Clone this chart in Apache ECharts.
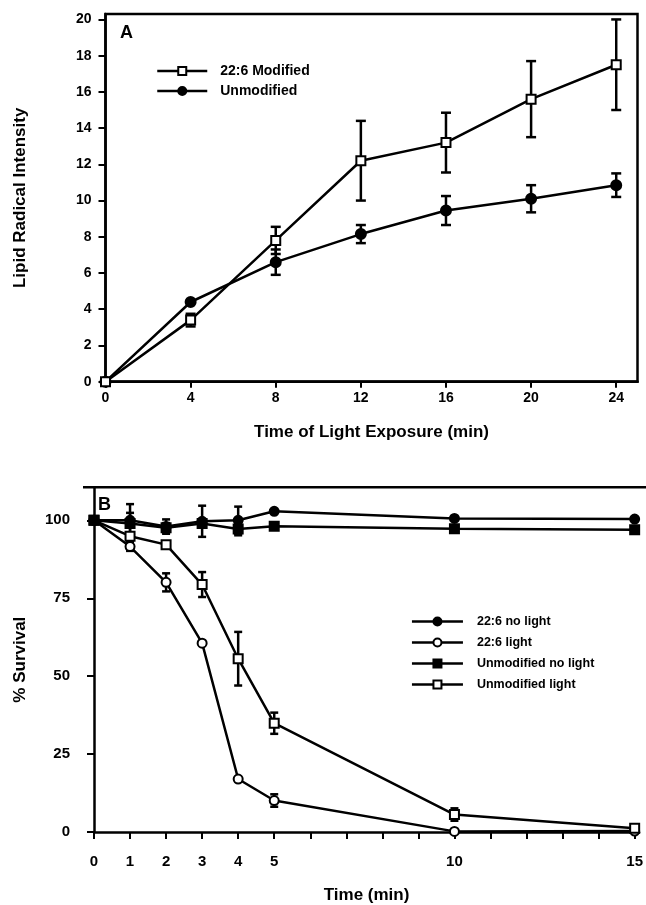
<!DOCTYPE html>
<html>
<head>
<meta charset="utf-8">
<script src="https://cdn.jsdelivr.net/npm/echarts@6/dist/echarts.min.js"></script>
<style>
  html, body { margin: 0; padding: 0; background: #fff; }
  #chart { width: 646px; height: 905px; }
</style>
</head>
<body>
<div id="chart"></div>
<script>
// Panel A: lipid radical intensity vs time of light exposure
const timeA = [0, 4, 8, 12, 16, 20, 24];
const modifiedA = [0, 3.4, 7.8, 12.2, 13.2, 15.6, 17.5];
const modifiedAErr = [0, 0.35, 0.75, 2.2, 1.65, 2.1, 2.5];
const unmodifiedA = [0, 4.4, 6.6, 8.15, 9.45, 10.1, 10.85];
const unmodifiedAErr = [0, 0, 0.7, 0.5, 0.8, 0.75, 0.65];
const ticksAX = [0, 4, 8, 12, 16, 20, 24];
const ticksAY = [0, 2, 4, 6, 8, 10, 12, 14, 16, 18, 20];

// Panel B: % survival vs time
const timeB = [0, 1, 2, 3, 4, 5, 10, 15];
const noLight226 = [100, 100, 98, 99.7, 100, 102.9, 100.6, 100.4];
const noLight226Err = [0, 5.2, 2.3, 5, 4.4, 0, 0, 0];
const light226 = [100, 91.6, 80.1, 60.6, 17, 10.1, 0.2, 0.3];
const light226Err = [0, 1.4, 2.9, 0, 0, 2, 0, 0];
const noLightUnmod = [100, 99, 97.6, 99, 97.2, 98.1, 97.3, 97];
const noLightUnmodErr = [0, 3.4, 1.5, 0, 2, 0, 0, 0];
const lightUnmod = [100, 94.9, 92.2, 79.4, 55.6, 34.9, 5.6, 1.2];
const lightUnmodErr = [0, 0, 0, 4, 8.6, 3.4, 2, 0];
const ticksBX = [0, 1, 2, 3, 4, 5, 6, 7, 8, 9, 10, 11, 12, 13, 14, 15];
const labelsBX = [0, 1, 2, 3, 4, 5, 10, 15];
const ticksBY = [0, 25, 50, 75, 100];

const FONT = 'Liberation Sans, Arial, sans-serif';
const LW = 2.5;

// layout of the two panels
const gridA = { left: 105.5, top: 14, width: 532, height: 367.7 };
const gridB = { left: 94, top: 487.3, width: 552, height: 348.7 };
const yOffsetB = 11;

const pair = (xs, ys) => xs.map((x, i) => [x, ys[i]]);
const bars = (xs, ys, es) =>
  xs.map((x, i) => [x, ys[i] - es[i], ys[i] + es[i]]).filter((d, i) => es[i] > 0);

function errorBar(capHalf) {
  return function (params, api) {
    const x = api.value(0);
    const lo = api.coord([x, api.value(1)]);
    const hi = api.coord([x, api.value(2)]);
    const style = { stroke: '#000', lineWidth: LW };
    return {
      type: 'group',
      children: [
        { type: 'line', shape: { x1: lo[0], y1: lo[1], x2: hi[0], y2: hi[1] }, style },
        { type: 'line', shape: { x1: lo[0] - capHalf, y1: lo[1], x2: lo[0] + capHalf, y2: lo[1] }, style },
        { type: 'line', shape: { x1: hi[0] - capHalf, y1: hi[1], x2: hi[0] + capHalf, y2: hi[1] }, style }
      ]
    };
  };
}

function errSeries(idx, data, cap) {
  return {
    type: 'custom',
    xAxisIndex: idx,
    yAxisIndex: idx,
    renderItem: errorBar(cap),
    encode: { x: 0, y: [1, 2] },
    data: data,
    z: 1,
    silent: true
  };
}

function lineSeries(idx, name, data, symbol, filled, size) {
  return {
    name: name,
    type: 'line',
    xAxisIndex: idx,
    yAxisIndex: idx,
    data: data,
    symbol: symbol,
    symbolSize: size,
    showAllSymbol: true,
    z: 3,
    lineStyle: { color: '#000', width: LW },
    itemStyle: { color: filled ? '#000' : '#fff', borderColor: '#000', borderWidth: 2 }
  };
}

const axisLine = { show: true, lineStyle: { color: '#000', width: LW } };
const tickStyle = { color: '#000', width: 2 };
const labelStyle = (size) => ({ color: '#000', fontFamily: FONT, fontWeight: 'bold', fontSize: size });
const nameStyle = { color: '#000', fontFamily: FONT, fontWeight: 'bold', fontSize: 17 };

const chart = echarts.init(document.getElementById('chart'));

chart.setOption({
  animation: false,
  backgroundColor: '#fff',
  title: [
    { text: 'A', left: 115, top: 19, textStyle: { color: '#000', fontFamily: FONT, fontWeight: 'bold', fontSize: 18 } },
    { text: 'B', left: 93, top: 491, textStyle: { color: '#000', fontFamily: FONT, fontWeight: 'bold', fontSize: 18 } }
  ],
  legend: [
    {
      data: ['22:6 Modified', 'Unmodified'],
      orient: 'vertical',
      left: 156,
      top: 64,
      padding: 0,
      itemWidth: 50,
      itemHeight: 10,
      itemGap: 6,
      lineStyle: { width: LW, color: '#000' },
      textStyle: { color: '#000', fontFamily: FONT, fontWeight: 'bold', fontSize: 14, padding: [0, 0, 0, 8] }
    },
    {
      data: ['22:6 no light', '22:6 light', 'Unmodified no light', 'Unmodified light'],
      orient: 'vertical',
      left: 410.7,
      top: 615,
      padding: 0,
      itemWidth: 51,
      itemHeight: 10,
      itemGap: 8,
      lineStyle: { width: LW, color: '#000' },
      textStyle: { color: '#000', fontFamily: FONT, fontWeight: 'bold', fontSize: 12.5, padding: [0, 0, 0, 9] }
    }
  ],
  grid: [
    Object.assign({ show: true, borderColor: '#000', borderWidth: LW, containLabel: false }, gridA),
    Object.assign({ containLabel: false }, gridB)
  ],
  xAxis: [
    {
      gridIndex: 0,
      type: 'value',
      min: 0,
      max: 25,
      name: 'Time of Light Exposure (min)',
      nameLocation: 'middle',
      nameGap: 42,
      nameTextStyle: nameStyle,
      axisLine: axisLine,
      axisTick: { show: true, length: 6, lineStyle: tickStyle, customValues: ticksAX },
      axisLabel: { margin: 9, customValues: ticksAX, ...labelStyle(14) },
      splitLine: { show: false }
    },
    {
      gridIndex: 1,
      type: 'value',
      min: 0,
      max: gridB.width / 36.5,
      offset: 10,
      name: 'Time (min)',
      nameLocation: 'middle',
      nameGap: 45,
      nameTextStyle: nameStyle,
      axisLine: axisLine,
      axisTick: { show: true, length: 7, lineStyle: tickStyle, customValues: ticksBX },
      axisLabel: { margin: 12, customValues: labelsBX, ...labelStyle(15) },
      splitLine: { show: false }
    }
  ],
  yAxis: [
    {
      gridIndex: 0,
      type: 'value',
      min: 0,
      max: 20.3,
      name: 'Lipid Radical Intensity',
      nameLocation: 'middle',
      nameGap: 77,
      nameTextStyle: nameStyle,
      axisLine: axisLine,
      axisTick: { show: true, length: 7, lineStyle: tickStyle, customValues: ticksAY },
      axisLabel: { margin: 14, customValues: ticksAY, ...labelStyle(14) },
      splitLine: { show: false }
    },
    {
      gridIndex: 1,
      type: 'value',
      min: 0,
      max: 110.6,
      offset: yOffsetB,
      name: '% Survival',
      nameLocation: 'middle',
      nameGap: 54,
      nameTextStyle: nameStyle,
      axisLine: axisLine,
      axisTick: { show: true, length: 7, lineStyle: tickStyle, customValues: ticksBY },
      axisLabel: { margin: 13, customValues: ticksBY, ...labelStyle(15) },
      splitLine: { show: false }
    }
  ],
  graphic: [
    {
      // top frame line of panel B
      type: 'line',
      shape: { x1: gridB.left - yOffsetB, y1: gridB.top, x2: gridB.left + gridB.width, y2: gridB.top },
      style: { stroke: '#000', lineWidth: LW }
    }
  ],
  series: [
    errSeries(0, bars(timeA, modifiedA, modifiedAErr), 5),
    errSeries(0, bars(timeA, unmodifiedA, unmodifiedAErr), 5),
    lineSeries(0, 'Unmodified', pair(timeA, unmodifiedA), 'circle', true, 10),
    lineSeries(0, '22:6 Modified', pair(timeA, modifiedA), 'rect', false, 9),

    errSeries(1, bars(timeB, noLight226, noLight226Err), 4),
    errSeries(1, bars(timeB, light226, light226Err), 4),
    errSeries(1, bars(timeB, noLightUnmod, noLightUnmodErr), 4),
    errSeries(1, bars(timeB, lightUnmod, lightUnmodErr), 4),
    lineSeries(1, '22:6 light', pair(timeB, light226), 'circle', false, 9),
    lineSeries(1, 'Unmodified light', pair(timeB, lightUnmod), 'rect', false, 9),
    lineSeries(1, '22:6 no light', pair(timeB, noLight226), 'circle', true, 9),
    lineSeries(1, 'Unmodified no light', pair(timeB, noLightUnmod), 'rect', true, 9)
  ]
});
</script>
</body>
</html>
